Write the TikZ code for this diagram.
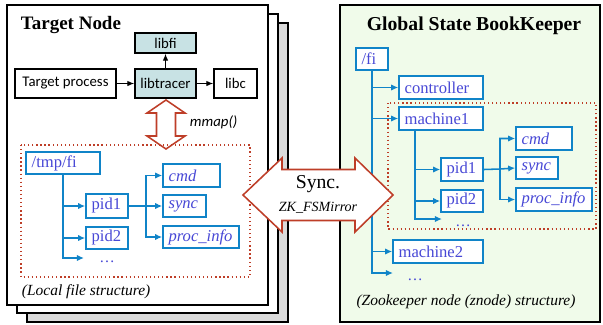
\documentclass[tikz,border=0pt]{standalone}
\usepackage{fontspec}
\setmainfont{Liberation Serif}
\setsansfont{Carlito}
\usepackage{xcolor}
\usepackage{tikz}
\usetikzlibrary{positioning,arrows.meta}

\definecolor{fiblue}{RGB}{16,132,200}
\definecolor{fitext}{RGB}{72,72,214}
\definecolor{firred}{RGB}{190,62,40}
\definecolor{bkgreen}{RGB}{240,251,234}
\definecolor{libteal}{RGB}{200,226,228}
\definecolor{pagegray}{RGB}{218,218,218}

\begin{document}
\begin{tikzpicture}[x=0.025cm, y=-0.025cm,
				libnode/.style={rectangle, draw=black, fill=white, line width=0.9pt, font=\sffamily\fontsize{10.5}{12}\selectfont, inner sep=2pt},
				tealnode/.style={libnode, fill=libteal},
				filenode/.style={rectangle, draw=fiblue, fill=white, line width=1.1pt, text=fitext, font=\rmfamily\fontsize{11.8}{12}\selectfont, inner xsep=4pt, inner ysep=1pt, minimum height=16pt, align=left, text width=#1},
				tree/.style={draw=fiblue, line width=1.1pt, -{Latex[length=5pt,width=4.5pt]}},
				callarrow/.style={line width=0.9pt, -{Latex[length=5pt,width=4pt]}},
				dotbox/.style={draw=firred, line width=0.9pt, dotted},
				fatarrow/.style={draw=firred, fill=white, line width=1.1pt, line join=miter},
				page/.style={draw=black, line width=0.9pt, fill=white},
				caption/.style={font=\rmfamily\itshape\fontsize{11}{12}\selectfont},
				]
				\useasboundingbox (0,0) rectangle (603,324);
				
				%Target node pages
				\draw[page, fill=pagegray] (27,23) rectangle (288,322);
				\draw[page] (17,14) rectangle (278,313);
				\draw[page] (7,5) rectangle (268,305);
				\node[anchor=west, font=\rmfamily\bfseries\fontsize{13.5}{14}\selectfont] (tnode) at (16,25) {Target Node};
				
				%Libraries
				\node[tealnode, minimum width=61*0.7113pt, minimum height=20*0.7113pt] (libfi) at (165.5,43) {libfi};
				\node[tealnode, minimum width=61*0.7113pt, minimum height=29*0.7113pt] (libtracer) at (165.5,83.5) {libtracer};
				\node[libnode, minimum width=101*0.7113pt, minimum height=29*0.7113pt] (tproc) at (65.5,83.5) {Target process};
				\node[libnode, minimum width=43*0.7113pt, minimum height=29*0.7113pt] (libc) at (235.5,83.5) {libc};
				
				\draw[callarrow] (tproc.east) -- (libtracer.west);
				\draw[callarrow] (libtracer.east) -- (libc.west);
				\draw[callarrow] (libtracer.north) -- (libfi.south);
				
				%mmap
				\draw[fatarrow] (166,100) -- (185,113) -- (175.5,113) -- (175.5,136) -- (185,136) -- (166,149)
					-- (147,136) -- (156.5,136) -- (156.5,113) -- (147,113) -- cycle;
				\node[anchor=west, font=\sffamily\itshape\fontsize{10.5}{12}\selectfont] (mmap) at (185,122) {mmap()};
				
				%Local file structure
				\draw[dotbox] (21,145) rectangle (250,277);
				\node[caption, anchor=west] (loclbl) at (17,292) {(Local file structure)};
				
				\node[filenode=44.6pt] (tmpfi) at (63,163) {/tmp/fi};
				\node[filenode=21.9pt, minimum height=24*0.7113pt] (lpid1) at (107,206) {pid1};
				\node[filenode=21.9pt] (lpid2) at (107,238) {pid2};
				\node[text=fitext, font=\fontsize{11}{12}\selectfont, inner sep=0pt] (ldots) at (107,262) {\dots};
				\coordinate (ldotsend) at (84,258);
				\node[filenode=32.5pt] (lcmd) at (191.5,175.5) {\itshape cmd};
				\node[filenode=22.6pt] (lsync) at (184.5,206) {\itshape sync};
				\node[filenode=46.1pt] (lproc) at (201,237) {\itshape proc\_info};
				\coordinate (lbr) at (146,206);
				
				\draw[tree] (tmpfi.south) |- (lpid1.west);
				\draw[tree] (tmpfi.south) |- (lpid2.west);
				\draw[tree] (tmpfi.south) |- (ldotsend);
				\draw[tree] (lpid1.east) -- (lbr) |- (lcmd.west);
				\draw[tree] (lbr) -- (lsync.west);
				\draw[tree] (lbr) |- (lproc.west);
				
				%BookKeeper
				\draw[draw=black, fill=bkgreen, line width=1.5pt] (340,5) rectangle (600,322);
				\node[font=\rmfamily\bfseries\fontsize{14}{15}\selectfont] (gsbk) at (474,26) {Global State BookKeeper};
				\draw[dotbox] (388,103) rectangle (596,229);
				\node[caption] (zklbl) at (466,302) {(Zookeeper node (znode) structure)};
				
				\node[filenode=14.8pt] (fi) at (372,59) {/fi};
				\node[filenode=51.7pt] (controller) at (441,87.5) {controller};
				\node[filenode=51.7pt] (machine1) at (441,118.5) {machine1};
				\node[filenode=21.9pt] (rpid1) at (462,169.5) {pid1};
				\node[filenode=21.9pt] (rpid2) at (462,201) {pid2};
				\node[text=fitext, font=\fontsize{11}{12}\selectfont, inner sep=0pt] (rdots) at (463,226) {\dots};
				\coordinate (rdotsend) at (442,219);
				\node[filenode=31.8pt] (rcmd) at (544,138.5) {\itshape cmd};
				\node[filenode=21.9pt] (rsync) at (537,168) {\itshape sync};
				\node[filenode=46.1pt] (rproc) at (554,199.5) {\itshape proc\_info};
				\node[filenode=56pt] (machine2) at (438,251.5) {machine2};
				\node[text=fitext, font=\fontsize{11}{12}\selectfont, inner sep=0pt] (rdots2) at (415,280) {\dots};
				\coordinate (rdots2end) at (393,273);
				\coordinate (m1trunk) at (415,130);
				\coordinate (rbr) at (500,169);
				
				\draw[tree] (fi.south) |- (controller.west);
				\draw[tree] (fi.south) |- (machine1.west);
				\draw[tree] (fi.south) |- (machine2.west);
				\draw[tree] (fi.south) |- (rdots2end);
				\draw[tree] (m1trunk) |- (rpid1.west);
				\draw[tree] (m1trunk) |- (rpid2.west);
				\draw[tree] (m1trunk) |- (rdotsend);
				\draw[tree] (rpid1.east) -- (rbr) |- (rcmd.west);
				\draw[tree] (rbr) -- (rsync.west);
				\draw[tree] (rbr) |- (rproc.west);
				
				%Sync
				\draw[fatarrow] (243,195) -- (282,158) -- (282,169.5) -- (355,169.5) -- (355,158) -- (393,195)
					-- (355,232) -- (355,220.5) -- (282,220.5) -- (282,232) -- cycle;
				\node[font=\rmfamily\fontsize{14}{15}\selectfont] (sync) at (318,184) {Sync.};
				\node[font=\rmfamily\itshape\fontsize{10}{11}\selectfont] (zkfs) at (318,208) {ZK\_FSMirror};
				
			\end{tikzpicture}
\end{document}
